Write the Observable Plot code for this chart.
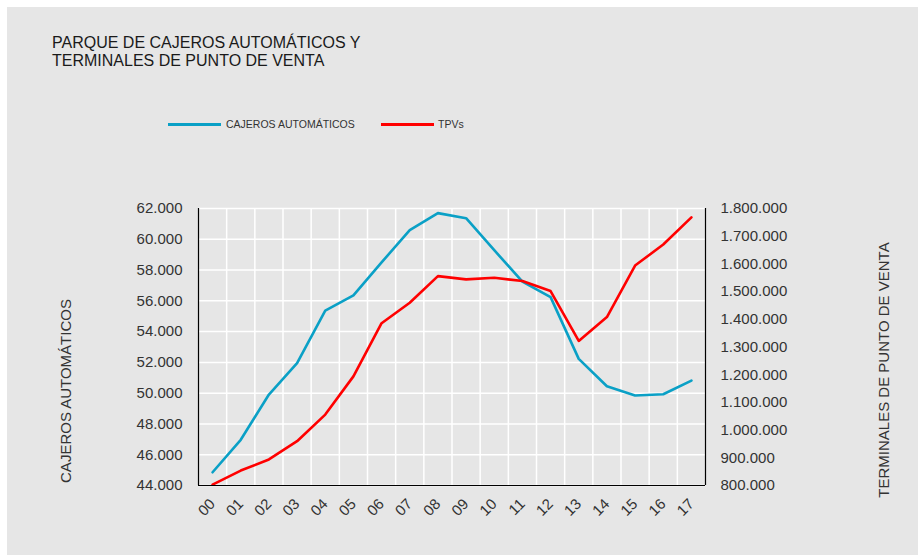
<!DOCTYPE html>
<html>
<head>
<meta charset="utf-8">
<script src="https://cdn.jsdelivr.net/npm/d3@7"></script>
<script src="https://cdn.jsdelivr.net/npm/@observablehq/plot@0.6"></script>
<style>
  html, body { margin: 0; padding: 0; background: #ffffff; }
  #wrap { position: relative; width: 918px; height: 555px; overflow: hidden; background: #ffffff;
          font-family: "Liberation Sans", Arial, Helvetica, sans-serif; color: #333; }
  #bg { position: absolute; left: 7px; top: 7px; right: 0; bottom: 0; background: #e6e6e6; }
  #chart { position: absolute; left: 0; top: 0; }
  .title { position: absolute; left: 52px; top: 34px; font-size: 16px; line-height: 18px; color: #1a1a1a; white-space: nowrap; }
  .leg-line { position: absolute; height: 3px; }
  .leg-text { position: absolute; font-size: 10.5px; line-height: 12px; color: #333; white-space: nowrap; }
  .ytitle { position: absolute; font-size: 15px; color: #333; white-space: nowrap;
            transform: translate(-50%, -50%) rotate(-90deg); }
</style>
</head>
<body>
<div id="wrap">
  <div id="bg"></div>
  <div id="chart"></div>
  <div class="title">PARQUE DE CAJEROS AUTOMÁTICOS Y<br>TERMINALES DE PUNTO DE VENTA</div>
  <div class="leg-line" style="left:168px; top:122.5px; width:53px; background:#0aa0c6;"></div>
  <div class="leg-text" style="left:226px; top:118px;">CAJEROS AUTOMÁTICOS</div>
  <div class="leg-line" style="left:381px; top:122.5px; width:53px; background:#ff0000;"></div>
  <div class="leg-text" style="left:438px; top:118px;">TPVs</div>
  <div class="ytitle" style="left:65px; top:391px;">CAJEROS AUTOMÁTICOS</div>
  <div class="ytitle" style="left:883px; top:370px;">TERMINALES DE PUNTO DE VENTA</div>
</div>
<script>
// ---- data ----
const years = ["00","01","02","03","04","05","06","07","08","09","10","11","12","13","14","15","16","17"];
const cajeros = [44860, 46970, 49910, 51950, 55370, 56350, 58500, 60590, 61700, 61370, 59290, 57250, 56240, 52230, 50450, 49850, 49930, 50820];
const tpvs = [803000, 854000, 894000, 960000, 1056000, 1194000, 1386000, 1460000, 1556000, 1544000, 1550000, 1538000, 1502000, 1322000, 1408000, 1594000, 1670000, 1768000];
const leftTicks = [44000, 46000, 48000, 50000, 52000, 54000, 56000, 58000, 60000, 62000];
const rightTicks = [800000, 900000, 1000000, 1100000, 1200000, 1300000, 1400000, 1500000, 1600000, 1700000, 1800000];

// ---- helpers ----
const loc = d3.formatLocale({decimal: ",", thousands: ".", grouping: [3], currency: ["", "€"]});
const fmt = loc.format(",.0f");
const L0 = leftTicks[0], L1 = leftTicks[leftTicks.length - 1];
const R0 = rightTicks[0], R1 = rightTicks[rightTicks.length - 1];
const toLeft = v => L0 + (v - R0) * (L1 - L0) / (R1 - R0);
const toRight = v => R0 + (v - L0) * (R1 - R0) / (L1 - L0);

const data = years.map((y, i) => ({i, year: y, cajeros: cajeros[i], tpv: toLeft(tpvs[i])}));
const idx = years.map((_, i) => i);
const bounds = years.slice(1).map((_, i) => i + 0.5);

const blue = "#0aa0c6", red = "#ff0000";

const chart = Plot.plot({
  width: 918,
  height: 555,
  marginTop: 208,
  marginBottom: 70,
  marginLeft: 198,
  marginRight: 213,
  style: {background: "transparent", fontFamily: "'Liberation Sans', Arial, Helvetica, sans-serif", color: "#333", overflow: "visible"},
  x: {type: "linear", domain: [-0.5, years.length - 0.5]},
  y: {domain: [L0, L1]},
  marks: [
    Plot.ruleY(leftTicks, {stroke: "#ffffff", strokeWidth: 1.5}),
    Plot.ruleX(bounds, {stroke: "#ffffff", strokeWidth: 1.5}),
    Plot.line(data, {x: "i", y: "cajeros", stroke: blue, strokeWidth: 2.6}),
    Plot.line(data, {x: "i", y: "tpv", stroke: red, strokeWidth: 2.6}),
    Plot.ruleX([-0.5, years.length - 0.5], {stroke: "#000", strokeWidth: 1.2}),
    Plot.ruleY([L0], {stroke: "#000", strokeWidth: 1.2}),
    Plot.axisY({ticks: leftTicks, tickSize: 0, tickPadding: 16, tickFormat: fmt, fontSize: 15, label: null}),
    Plot.axisY({anchor: "right", ticks: rightTicks.map(toLeft), tickSize: 0, tickPadding: 15,
                tickFormat: d => fmt(Math.round(toRight(d))), fontSize: 15, textAnchor: "start", label: null}),
    Plot.axisX({ticks: idx, tickSize: 0, tickPadding: 16, tickRotate: -45, tickFormat: i => years[i], fontSize: 15, label: null})
  ]
});
document.getElementById("chart").appendChild(chart);
</script>
</body>
</html>
